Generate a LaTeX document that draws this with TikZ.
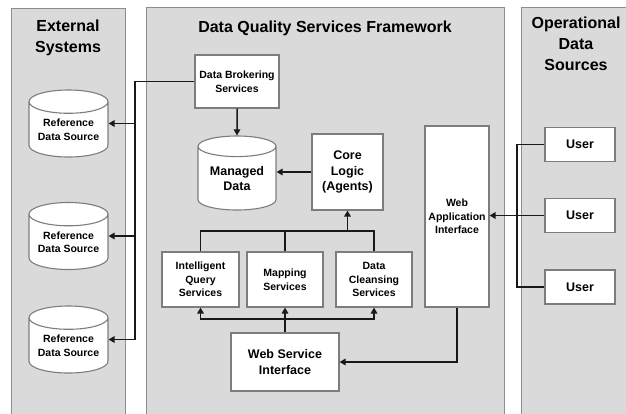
\documentclass[tikz,border=0pt]{standalone}
\usepackage{fontspec}
\setmainfont{Liberation Sans}
\usetikzlibrary{shapes.geometric,arrows.meta,positioning}
\definecolor{panelgray}{RGB}{218,218,218}
\definecolor{panelline}{RGB}{140,140,140}
\definecolor{boxline}{RGB}{125,125,125}
\definecolor{wireblack}{RGB}{25,25,25}
\tikzset{
    panel/.style = {fill=panelgray, draw=panelline, line width=0.9pt},
    panel-title/.style = {font=\bfseries\fontsize{16}{21}\selectfont, align=center},
    service-box/.style = {draw=boxline, fill=white, line width=1.1pt, rectangle, align=center, inner sep=0pt, font=\bfseries\fontsize{10.5}{13.5}\selectfont},
    big-box/.style = {service-box, font=\bfseries\fontsize{12.5}{15.5}\selectfont},
    data-store/.style = {draw=boxline, fill=white, line width=1.1pt, cylinder, shape border rotate=90, aspect=0.38, anchor=shape center, align=center, inner sep=0pt, font=\bfseries\fontsize{10.5}{13.5}\selectfont},
    wire/.style = {draw=wireblack, line width=1.5pt},
    feed/.style = {wire, -{Triangle[length=6pt,width=6.5pt]}},
}

\begin{document}
\begin{tikzpicture}[x=1pt, y=-1pt]
\useasboundingbox (0,0) rectangle (626,413);
\clip (0,0) rectangle (626,413);

% the three columns
\draw[panel] (11,8) rectangle (125,440);
\draw[panel] (146,7) rectangle (504,440);
\draw[panel] (521,7) rectangle (660,440);
\node[panel-title] (ext-title) at (68,37.5) {External\\Systems};
\node[panel-title] (dq-title) at (325,28) {Data Quality Services Framework};
\node[panel-title] (ops-title) at (576,43.5) {Operational\\Data\\Sources};

% external systems
\node[data-store, minimum width=79pt, minimum height=67pt] (ref1) at (68.5,123.5) {Reference\\Data Source};
\node[data-store, minimum width=79pt, minimum height=67pt] (ref2) at (68.5,236) {Reference\\Data Source};
\node[data-store, minimum width=79pt, minimum height=67pt] (ref3) at (68.5,339.5) {Reference\\Data Source};

% framework
\node[service-box, minimum width=84pt, minimum height=53pt] (broker) at (237,81.5) {Data Brokering\\Services};
\node[data-store, minimum width=78pt, minimum height=74pt, font=\bfseries\fontsize{12.5}{15}\selectfont] (managed) at (237,173) {Managed\\Data};
\node[big-box, minimum width=71pt, minimum height=76pt] (core) at (347.5,172) {Core\\Logic\\(Agents)};
\node[service-box, minimum width=64pt, minimum height=181pt] (webapp) at (457,216.5) {Web\\Application\\Interface};
\node[service-box, minimum width=77pt, minimum height=55pt] (query) at (200.5,279.5) {Intelligent\\Query\\Services};
\node[service-box, minimum width=76pt, minimum height=55pt] (mapping) at (285,279.5) {Mapping\\Services};
\node[service-box, minimum width=76pt, minimum height=55pt] (cleansing) at (374,279.5) {Data\\Cleansing\\Services};
\node[big-box, minimum width=108pt, minimum height=58pt] (webservice) at (285,362) {Web Service\\Interface};

% operational data sources
\node[big-box, minimum width=70pt, minimum height=34pt] (user1) at (580,144.5) {User};
\node[big-box, minimum width=70pt, minimum height=34pt] (user2) at (580,215.5) {User};
\node[big-box, minimum width=70pt, minimum height=34pt] (user3) at (580,287) {User};

\coordinate (ref-bus) at (135,0);
\coordinate (svc-bus) at (0,231);
\coordinate (fan) at (0,319);
\coordinate (user-bus) at (517,0);

\draw[wire] (broker.west) -| (ref-bus |- ref3.shape center);
\draw[feed] (ref-bus |- ref1.shape center) -- (ref1.shape center -| ref1.east);
\draw[feed] (ref-bus |- ref2.shape center) -- (ref2.shape center -| ref2.east);
\draw[feed] (ref-bus |- ref3.shape center) -- (ref3.shape center -| ref3.east);
\draw[feed] (broker.south) -- (managed.north);
\draw[feed] (core.west) -- (core.west -| managed.east);

\draw[wire] (query.north) |- (cleansing.north |- svc-bus) -- (cleansing.north);
\draw[wire] (mapping.north) -- (mapping.north |- svc-bus);
\draw[feed] (core.south |- svc-bus) -- (core.south);

\draw[feed] (webservice.north) -- (mapping.south);
\draw[feed] (webservice.north |- fan) -| (query.south);
\draw[feed] (webservice.north |- fan) -| (cleansing.south);
\draw[feed] (webapp.south) |- (webservice.east);

\draw[wire] (user1.west) -| (user-bus |- user3.west) -- (user3.west);
\draw[feed] (user2.west) -- (user2.west -| webapp.east);
\end{tikzpicture}
\end{document}
